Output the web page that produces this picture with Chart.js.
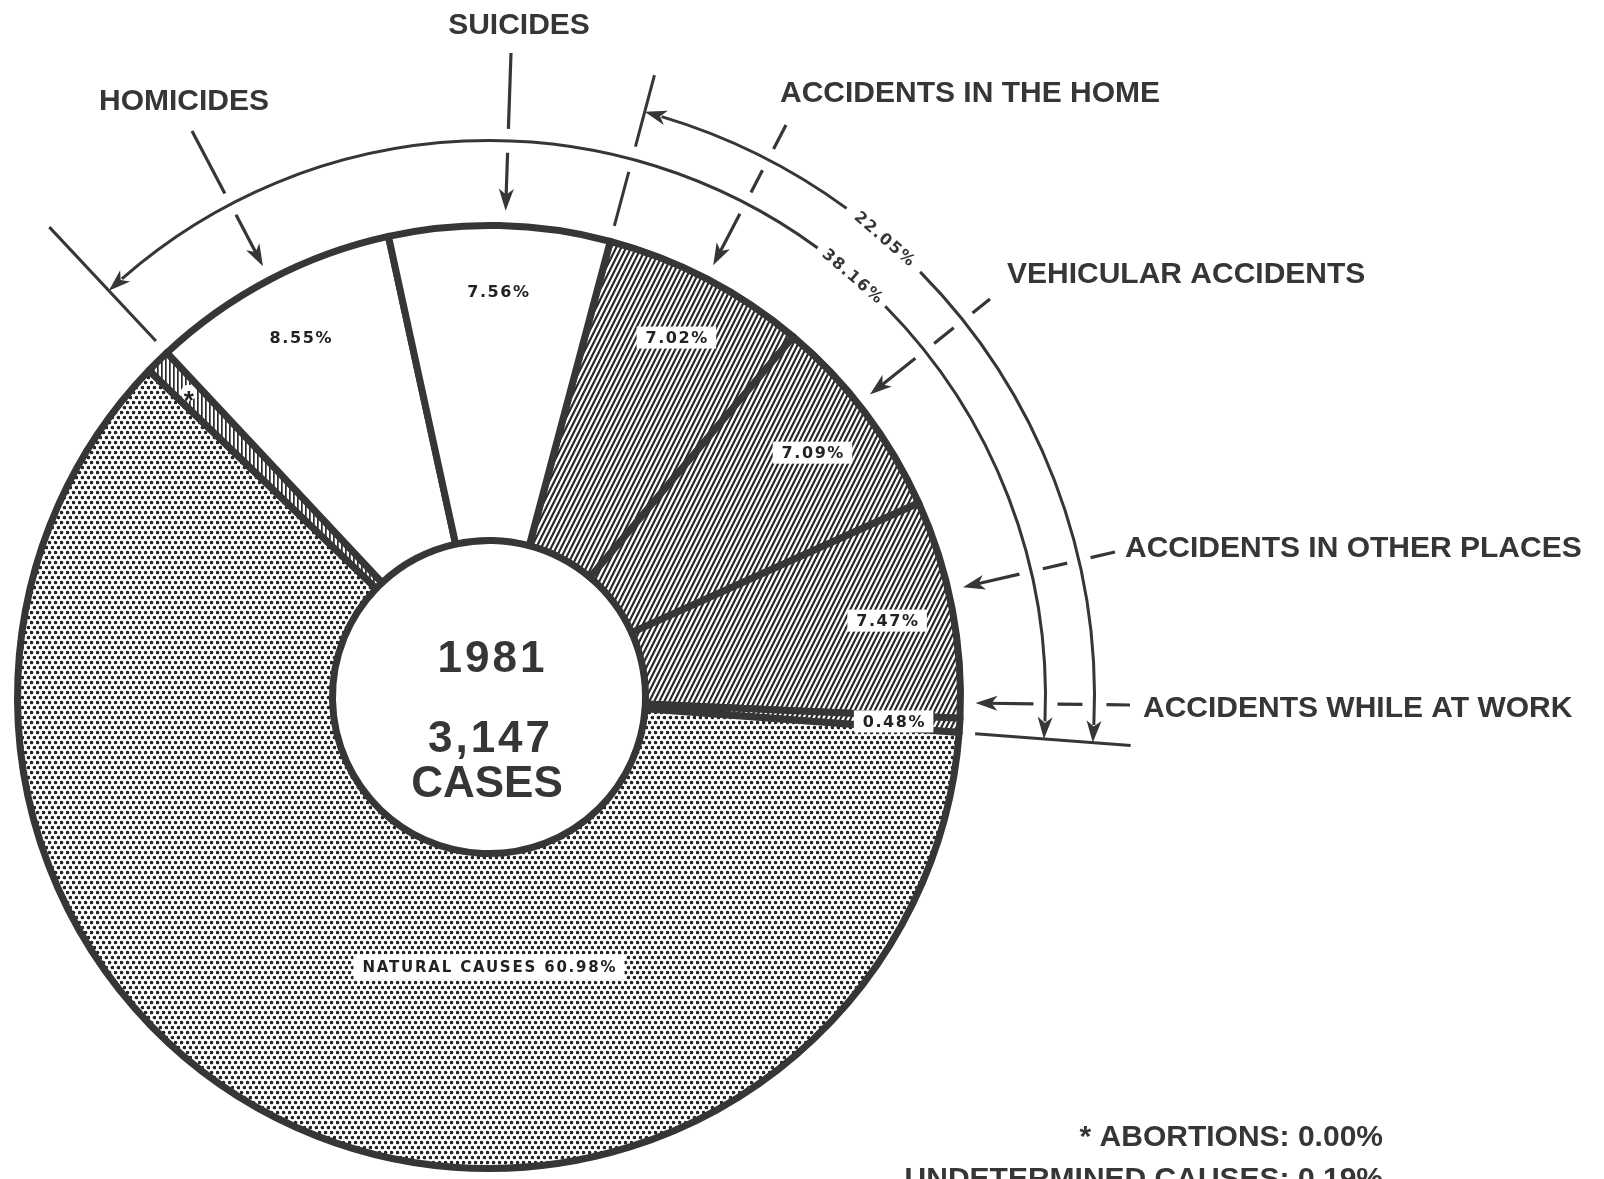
<!DOCTYPE html>
<html>
<head>
<meta charset="utf-8">
<title>1981 - 3,147 cases</title>
<script src="https://cdn.jsdelivr.net/npm/chart.js@4.4.1/dist/chart.umd.min.js"></script>
<style>
  html, body { margin: 0; padding: 0; background: #fff; }
  canvas { display: block; }
</style>
</head>
<body>
<canvas id="causes-chart" width="1604" height="1179"></canvas>
<script>
// Values, in percent, clockwise starting at the accidents.
// The striped slice takes what is left to 100 (drawn wider than its 0.19% label).
const causes = [
  "Accidents in the Home",
  "Vehicular Accidents",
  "Accidents in Other Places",
  "Accidents While at Work",
  "Natural Causes",
  "Undetermined Causes",
  "Homicides",
  "Suicides",
];
const shares = [7.02, 7.09, 7.47, 0.48, 60.98, 0.85, 8.55, 7.56];
const shareLabels = ["7.02%", "7.09%", "7.47%", "0.48%", "NATURAL CAUSES 60.98%", "", "8.55%", "7.56%"];
const calloutNames = [
  "ACCIDENTS IN THE HOME",
  "VEHICULAR ACCIDENTS",
  "ACCIDENTS IN OTHER PLACES",
  "ACCIDENTS WHILE AT WORK",
  null,
  null,
  "HOMICIDES",
  "SUICIDES",
];
const groupLabels = ["22.05%", "38.16%"]; // accidents / accidents + homicides + suicides
const centerLines = ["1981", "3,147", "CASES"];
const footnotes = ["* ABORTIONS: 0.00%", "UNDETERMINED CAUSES: 0.19%"];

// ---- layout / style ----
const fillKinds = ["hatch", "hatch", "hatch", "hatch", "dots", "stripes", "plain", "plain"];
const calloutPlacement = [
  { text: [780, 102], align: "left", tail: [786, 125] },
  { text: [1007, 283], align: "left", tail: [990, 299] },
  { text: [1125, 557], align: "left", tail: [1115, 552] },
  { text: [1143, 717], align: "left", tail: [1130, 705] },
  null,
  null,
  { text: [184, 110], align: "center", tail: [192, 131] },
  { text: [519, 34], align: "center", tail: [511, 53] },
];
const INK = "#363636";
const FONT = '"Liberation Sans", Arial, Helvetica, sans-serif';
const SMALL_FONT = '"DejaVu Sans", Verdana, sans-serif';
const GROUP_TEXT_DEG = 40.8; // where the group percentages sit on their arcs (from 12 o'clock)

function makePattern(kind) {
  const tile = document.createElement("canvas");
  const g = tile.getContext("2d");
  if (kind === "hatch") {
    tile.width = 5;
    tile.height = 10;
    g.fillStyle = "#fff";
    g.fillRect(0, 0, 5, 10);
    g.strokeStyle = "#2a2a2a";
    g.lineWidth = 2.2;
    g.beginPath();
    for (let k = -1; k <= 1; k++) {
      g.moveTo(-2, 14 + 10 * k);
      g.lineTo(7, -4 + 10 * k);
    }
    g.stroke();
  } else if (kind === "dots") {
    tile.width = 6;
    tile.height = 10;
    g.fillStyle = "#fff";
    g.fillRect(0, 0, 6, 10);
    g.fillStyle = "#242424";
    [[1.5, 2.5], [4.5, 7.5]].forEach(([x, y]) => {
      g.beginPath();
      g.arc(x, y, 1.85, 0, Math.PI * 2);
      g.fill();
    });
  } else if (kind === "stripes") {
    tile.width = 4;
    tile.height = 4;
    g.fillStyle = "#fff";
    g.fillRect(0, 0, 4, 4);
    g.fillStyle = "#2a2a2a";
    g.fillRect(1, 0, 1.7, 4);
  } else {
    return "#ffffff";
  }
  return g.createPattern(tile, "repeat");
}

// ---- drawing helpers ----
function circleHits(p0, p1, c, R) {
  const dx = p1[0] - p0[0], dy = p1[1] - p0[1];
  const fx = p0[0] - c[0], fy = p0[1] - c[1];
  const A = dx * dx + dy * dy, B = 2 * (fx * dx + fy * dy), C = fx * fx + fy * fy - R * R;
  const disc = B * B - 4 * A * C;
  if (disc < 0) return [];
  const s = Math.sqrt(disc);
  return [(-B - s) / (2 * A), (-B + s) / (2 * A)].filter((t) => t > 0 && t < 1);
}

function inSpan(a, a0, a1) {
  const TAU = Math.PI * 2;
  const d = (((a - a0) % TAU) + TAU) % TAU;
  return d > 0.01 && d < a1 - a0 - 0.01;
}

function brokenLine(ctx, p0, p1, cuts, gap) {
  const len = Math.hypot(p1[0] - p0[0], p1[1] - p0[1]);
  const lerp = (t) => [p0[0] + (p1[0] - p0[0]) * t, p0[1] + (p1[1] - p0[1]) * t];
  let start = 0;
  ctx.beginPath();
  cuts.sort((a, b) => a - b).forEach((t) => {
    const end = t - gap / len;
    if (end > start) {
      ctx.moveTo(...lerp(start));
      ctx.lineTo(...lerp(end));
    }
    start = t + gap / len;
  });
  if (start < 1) {
    ctx.moveTo(...lerp(start));
    ctx.lineTo(...p1);
  }
  ctx.stroke();
}

function arrowHead(ctx, tip, dir) {
  const L = 22, W = 7.5, N = 6;
  const ux = Math.cos(dir), uy = Math.sin(dir);
  const px = -uy, py = ux;
  const bx = tip[0] - ux * L, by = tip[1] - uy * L;
  ctx.beginPath();
  ctx.moveTo(tip[0], tip[1]);
  ctx.lineTo(bx + px * W, by + py * W);
  ctx.lineTo(tip[0] - ux * (L - N), tip[1] - uy * (L - N));
  ctx.lineTo(bx - px * W, by - py * W);
  ctx.closePath();
  ctx.fill();
}

function spacedText(ctx, text, x, y, font, spacing, align, baseline) {
  ctx.font = font;
  ctx.letterSpacing = spacing + "px";
  ctx.textAlign = align;
  ctx.textBaseline = baseline;
  // letterSpacing adds a trailing gap, shift back half of it when centred
  const shift = align === "center" ? spacing / 2 : 0;
  ctx.fillText(text, x + shift, y);
  ctx.letterSpacing = "0px";
}

// ---- annotations: labels, group arcs, callout arrows ----
const annotations = {
  id: "annotations",
  afterDatasetsDraw(chart) {
    const ctx = chart.ctx;
    const arcs = chart.getDatasetMeta(0).data;
    const cx = arcs[0].x, cy = arcs[0].y;
    const c = [cx, cy];
    const outer = arcs[0].outerRadius, inner = arcs[0].innerRadius;
    const TAU = Math.PI * 2;
    const at = (a, r) => [cx + r * Math.cos(a), cy + r * Math.sin(a)];

    ctx.save();
    ctx.fillStyle = INK;
    ctx.strokeStyle = INK;
    ctx.lineCap = "butt";

    // percentages inside the slices
    arcs.forEach((arc, i) => {
      const text = shareLabels[i];
      if (!text) return;
      const span = arc.endAngle - arc.startAngle;
      const big = span > Math.PI;
      const a = big ? Math.PI / 2 : (arc.startAngle + arc.endAngle) / 2;
      const r = big ? inner + 0.36 * (outer - inner) : inner + 0.79 * (outer - inner);
      const [x, y] = at(a, r);
      const size = big ? 15 : 16;
      const spacing = big ? 1.8 : 1.6;
      const font = "bold " + size + "px " + SMALL_FONT;
      ctx.font = font;
      ctx.letterSpacing = spacing + "px";
      const w = ctx.measureText(text).width;
      ctx.letterSpacing = "0px";
      const h = big ? 25 : 22;
      const pad = 8;
      ctx.fillStyle = "#fff";
      ctx.fillRect(x - w / 2 - pad, y - h / 2, w + pad * 2, h);
      ctx.fillStyle = "#222";
      spacedText(ctx, text, x, y + 1, font, spacing, "center", "middle");
    });

    // asterisk in the striped slice
    {
      const arc = arcs[5];
      const [x, y] = at((arc.startAngle + arc.endAngle) / 2, outer - 44);
      ctx.fillStyle = "#fff";
      ctx.beginPath();
      ctx.arc(x, y, 8, 0, TAU);
      ctx.fill();
      ctx.fillStyle = "#222";
      spacedText(ctx, "*", x, y + 9, "bold 26px " + FONT, 0, "center", "middle");
    }

    // centre text
    ctx.fillStyle = INK;
    spacedText(ctx, centerLines[0], cx + 2, cy - 25, "bold 44px " + FONT, 3, "center", "alphabetic");
    spacedText(ctx, centerLines[1], cx, cy + 55, "bold 44px " + FONT, 3, "center", "alphabetic");
    spacedText(ctx, centerLines[2], cx - 2, cy + 100, "bold 44px " + FONT, 0, "center", "alphabetic");

    // group arcs: accidents (outer) and all violent deaths (inner)
    const accStart = arcs[0].startAngle, accEnd = arcs[3].endAngle;
    const violentStart = arcs[6].startAngle;
    const violentEnd = accEnd + (accEnd < violentStart ? TAU : 0);
    const groups = [
      { R: outer + 134, a0: accStart, a1: accEnd, label: groupLabels[0] },
      { R: outer + 85, a0: violentStart, a1: violentEnd, label: groupLabels[1] },
    ];
    const textA = ((GROUP_TEXT_DEG - 90) * Math.PI) / 180;
    const textHalf = (4.6 * Math.PI) / 180;
    ctx.lineWidth = 3;
    groups.forEach((g) => {
      const head = 22 / g.R;
      const gc = g.a0 + ((((textA - g.a0) % TAU) + TAU) % TAU);
      ctx.beginPath();
      ctx.arc(cx, cy, g.R, g.a0 + head * 0.8, gc - textHalf);
      ctx.stroke();
      ctx.beginPath();
      ctx.arc(cx, cy, g.R, gc + textHalf, g.a1 - head * 0.8);
      ctx.stroke();
      // arrowheads at both ends, following the chord
      const s = at(g.a0, g.R), sb = at(g.a0 + head, g.R);
      arrowHead(ctx, s, Math.atan2(s[1] - sb[1], s[0] - sb[0]));
      const e = at(g.a1, g.R), eb = at(g.a1 - head, g.R);
      arrowHead(ctx, e, Math.atan2(e[1] - eb[1], e[0] - eb[0]));
      // rotated percentage
      const [tx, ty] = at(gc, g.R);
      ctx.save();
      ctx.translate(tx, ty);
      ctx.rotate(gc + Math.PI / 2);
      spacedText(ctx, g.label, 0, 1, "bold 16px " + SMALL_FONT, 1.5, "center", "middle");
      ctx.restore();
    });

    const crossings = (p0, p1) => {
      const cuts = [];
      groups.forEach((g) => {
        circleHits(p0, p1, c, g.R).forEach((t) => {
          const p = [p0[0] + (p1[0] - p0[0]) * t, p0[1] + (p1[1] - p0[1]) * t];
          if (inSpan(Math.atan2(p[1] - cy, p[0] - cx), g.a0, g.a1)) cuts.push(t);
        });
      });
      return cuts;
    };

    // radial ticks at the group boundaries
    ctx.lineWidth = 3;
    [accStart, violentStart, accEnd].forEach((a) => {
      const p0 = at(a, outer + 16), p1 = at(a, outer + 172);
      brokenLine(ctx, p0, p1, crossings(p0, p1), 13);
    });

    // callout names with radial arrows
    arcs.forEach((arc, i) => {
      const name = calloutNames[i];
      const place = calloutPlacement[i];
      if (!name || !place) return;
      spacedText(ctx, name, place.text[0], place.text[1], "bold 30px " + FONT, 0, place.align, "alphabetic");
      const tail = place.tail;
      const d = Math.hypot(tail[0] - cx, tail[1] - cy);
      const tip = [cx + ((tail[0] - cx) / d) * (outer + 15), cy + ((tail[1] - cy) / d) * (outer + 15)];
      const dir = Math.atan2(tip[1] - tail[1], tip[0] - tail[0]);
      const lineEnd = [tip[0] - Math.cos(dir) * 14, tip[1] - Math.sin(dir) * 14];
      ctx.lineWidth = 3.2;
      brokenLine(ctx, tail, lineEnd, crossings(tail, lineEnd), 12);
      arrowHead(ctx, tip, dir);
    });

    // footnotes
    spacedText(ctx, footnotes[0], 1383, 1146, "bold 30px " + FONT, 0, "right", "alphabetic");
    spacedText(ctx, footnotes[1], 1383, 1188, "bold 30px " + FONT, 0, "right", "alphabetic");

    ctx.restore();
  },
};

const canvas = document.getElementById("causes-chart");
new Chart(canvas.getContext("2d"), {
  type: "doughnut",
  data: {
    labels: causes,
    datasets: [
      {
        data: shares,
        backgroundColor: fillKinds.map(makePattern),
        borderColor: INK,
        borderWidth: 7,
        borderJoinStyle: "round",
        hoverOffset: 0,
      },
    ],
  },
  options: {
    responsive: false,
    animation: false,
    rotation: 14.9,
    cutout: "33.2%",
    layout: { padding: { left: 14, top: 222, right: 640, bottom: 7 } },
    plugins: {
      legend: { display: false },
      tooltip: { enabled: false },
    },
    events: [],
  },
  plugins: [annotations],
});
</script>
</body>
</html>
